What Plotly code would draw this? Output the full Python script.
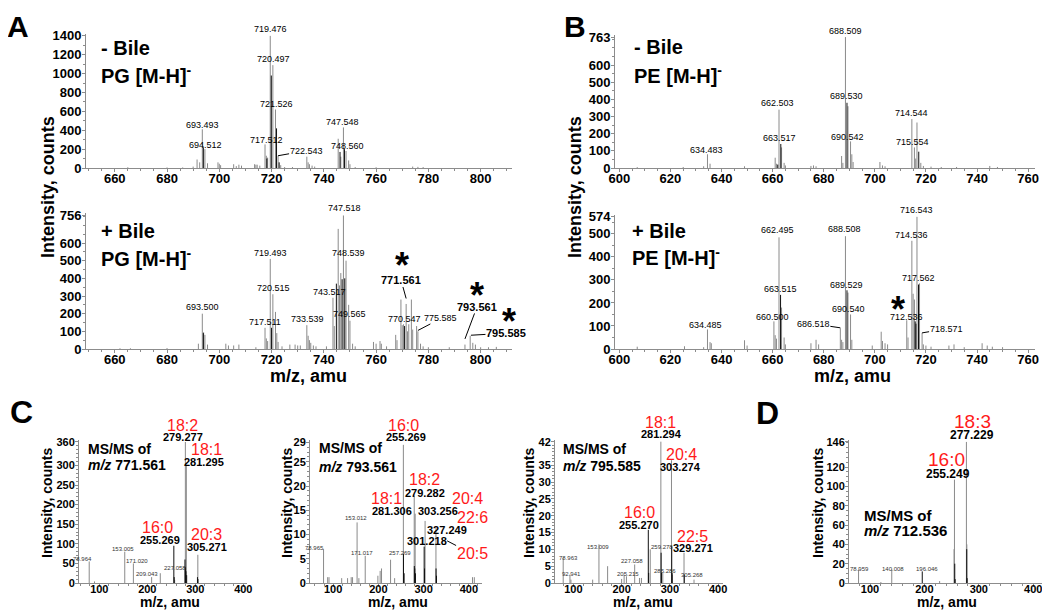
import plotly.graph_objects as go

FONT = "Liberation Sans, Arial, sans-serif"
OFF = 8                      # browser body margin
W, H = 1050 - OFF, 613 - OFF

# ---------------- DATA ----------------
# Panel A, -Bile, PG [M-H]-  (m/z, intensity)
a_top_mz = [665, 680, 686, 690, 691.5, 692.5, 693.5, 694.5, 695.5, 699.5, 700, 700.5, 705.5, 706.5, 707.5, 708.5,
            713.5, 714, 714.5, 715.5, 717.5, 718, 718.5, 719.5, 720.5, 721.5, 722.5, 723.5, 725, 728,
            733.5, 734, 734.5, 735.5, 736.5, 745.5, 746.5, 747.5, 748.5, 749.5, 750, 752, 760, 774, 776, 778]
a_top_int = [8, 6, 6, 15, 90, 60, 410, 200, 50, 60, 45, 30, 40, 20, 35, 25,
             40, 35, 35, 25, 250, 130, 110, 1400, 1090, 620, 130, 30, 10, 10,
             120, 60, 40, 25, 15, 310, 120, 430, 180, 80, 40, 10, 8, 15, 12, 10]
a_top_dark_mz = [693.9, 718.2, 719.9, 721.9, 722.9, 746.2, 747.9]
a_top_dark_int = [220, 100, 980, 420, 60, 170, 200]

# Panel A, +Bile, PG [M-H]-
a_bot_mz = [662, 666, 680, 692, 693.5, 694, 694.5, 695.5, 702.5, 703.5, 705.5, 707.5, 714, 717.5, 718, 718.5,
            719.5, 720.5, 721.5, 722, 722.5, 724, 727, 729, 730, 731, 733.5, 734, 734.5, 735, 736, 737, 741,
            743.5, 744, 745.5, 746, 746.5, 747.5, 748.5, 749.5, 750, 751, 752, 759, 760, 761.5, 762, 764,
            767.5, 768, 769.5, 770, 770.5, 771.5, 772, 772.5, 773.5, 774, 775.5, 776, 777, 778, 780, 788,
            794, 796, 797, 798, 800, 803, 806]
a_bot_int = [4, 4, 5, 30, 200, 95, 80, 25, 30, 20, 20, 25, 10, 120, 60, 45,
             510, 310, 210, 90, 40, 15, 25, 25, 20, 20, 135, 75, 50, 35, 20, 15, 15,
             290, 130, 680, 360, 430, 756, 500, 250, 160, 30, 15, 40, 30, 45, 30, 15,
             80, 50, 280, 135, 140, 255, 100, 140, 280, 110, 130, 100, 30, 15, 10, 10,
             25, 75, 35, 25, 10, 10, 12]
a_bot_dark_mz = [693.9, 720.0, 744.8, 747.0, 748.0, 770.9]
a_bot_dark_int = [90, 120, 370, 395, 400, 130]

# Panel B, -Bile, PE [M-H]-
b_top_mz = [607, 625, 633, 634.5, 635.5, 649, 661, 661.5, 662.5, 663.5, 664.5, 665, 675, 676, 677,
            687, 687.5, 688.5, 689.5, 690.5, 691, 691.5, 702, 703, 704, 714.5, 715.5, 716, 716.5, 718, 719,
            722, 726, 732, 745, 748]
b_top_int = [5, 6, 10, 80, 25, 10, 60, 25, 340, 120, 30, 15, 12, 15, 10,
             70, 30, 763, 360, 155, 80, 35, 35, 15, 10, 285, 120, 55, 265, 30, 12,
             8, 6, 6, 12, 6]
b_top_dark_mz = [662.0, 663.2, 689.1, 717.2]
b_top_dark_int = [20, 140, 380, 95]

# Panel B, +Bile, PE [M-H]-
b_bot_mz = [607, 625.5, 633, 634.5, 635.5, 636, 649, 650, 660.5, 661, 661.5, 662.5, 663.5, 664.5, 665,
            675, 677, 678, 686.5, 687, 687.5, 688.5, 689.5, 690.5, 691, 699, 702.5, 703, 704, 705,
            712.5, 713, 714.5, 715, 715.5, 716.5, 717.5, 718.5, 719, 720, 722, 729, 731, 735, 742, 744, 746, 750]
b_bot_int = [10, 12, 8, 85, 30, 25, 38, 15, 120, 60, 45, 485, 180, 50, 20,
             25, 40, 20, 90, 40, 30, 490, 245, 150, 40, 15, 75, 35, 25, 20,
             125, 50, 470, 240, 215, 574, 285, 70, 20, 15, 10, 15, 20, 8, 25, 15, 10, 8]
b_bot_dark_mz = [663.1, 689.1, 715.8, 716.1, 717.1]
b_bot_dark_int = [235, 255, 120, 110, 280]

# Panel C, MS/MS of m/z 771.561
c1_mz = [78.964, 90, 153.005, 171.020, 209.043, 227.058, 257, 279.277, 281.295, 305.271]
c1_int = [55, 4, 80, 50, 15, 25, 8, 360, 300, 72]
c1_dark_mz = [255.269, 256, 278.5, 279.5, 280.5, 282, 304.5, 305.5]
c1_dark_int = [95, 15, 60, 40, 30, 20, 15, 10]

# Panel C, MS/MS of m/z 793.561
c2_mz = [78.965, 88, 91, 119, 132, 140, 143, 153.012, 157, 171.017, 199, 204, 207, 227, 236,
         255.269, 257, 279.282, 281.306, 303.256, 327.249, 408, 412]
c2_int = [7, 1.2, 1.2, 1, 1, 1.2, 1.2, 12.5, 1, 5.6, 1.5, 2.5, 3, 4.8, 1,
          28.5, 2, 18, 14.3, 12.8, 11.4, 1.2, 1.2]
c2_dark_mz = [255.5, 256.5, 279.5, 280.5, 282, 301.218, 302, 327.5, 328.5]
c2_dark_int = [6, 2, 3.5, 3, 2, 7.5, 3, 3, 1.5]

# Panel C, MS/MS of m/z 795.585
c3_mz = [78.963, 92.941, 95, 140, 153.009, 171, 200, 205.215, 210, 227.058, 237, 241,
         259.278, 281.294, 285.286, 303.274, 305.268, 329.271, 350]
c3_int = [7.4, 2.5, 1, 1, 11.5, 5, 1.2, 2.5, 2, 5.5, 1.5, 1.5,
          10, 42, 3, 36.5, 2.5, 9, 1]
c3_dark_mz = [255.270, 256, 281.8, 282.5, 303.8, 304.5, 329.8]
c3_dark_int = [15.8, 3, 9, 3, 11, 3, 2.5]

# Panel D, MS/MS of m/z 712.536
d_mz = [78.959, 120, 140.008, 228, 254.5, 255.249, 277.229, 278]
d_int = [14, 1, 14, 2, 35, 107, 146, 40]
d_dark_mz = [196.046, 255.8, 256.5, 277.8, 278.5]
d_dark_int = [12, 20, 4, 35, 5]

# ---------------- HELPERS ----------------
def px(x):
    return (x - OFF) / W

def py(y):
    return 1 - (y - OFF) / H

def sticks(mz, inten):
    xs, ys = [], []
    for m, h in zip(mz, inten):
        xs += [m, m, None]
        ys += [0, h, None]
    return xs, ys

GREY = "#8a8a8a"
DARK = "#111111"
AXC = "#8c8c8c"

panels = [
    dict(data=(a_top_mz, a_top_int, a_top_dark_mz, a_top_dark_int), xd=(86, 512), yd=(168, 34),
         xr=(649, 812), yr=(0, 1420), xt=list(range(660, 801, 20)), yt=[0, 200, 400, 600, 800, 1000, 1200, 1400],
         xm=5, ym=100, fs=13, xso=-5),
    dict(data=(a_bot_mz, a_bot_int, a_bot_dark_mz, a_bot_dark_int), xd=(86, 512), yd=(349, 213),
         xr=(649, 812), yr=(0, 770), xt=list(range(660, 801, 20)), yt=[0, 100, 200, 300, 400, 500, 600, 756],
         xm=5, ym=50, fs=13, xso=-5),
    dict(data=(b_top_mz, b_top_int, b_top_dark_mz, b_top_dark_int), xd=(615, 1035), yd=(168, 35),
         xr=(598.3, 762.7), yr=(0, 775), xt=list(range(600, 761, 20)), yt=[0, 100, 200, 300, 400, 500, 600, 763],
         xm=5, ym=50, fs=13, xso=-5),
    dict(data=(b_bot_mz, b_bot_int, b_bot_dark_mz, b_bot_dark_int), xd=(615, 1035), yd=(349, 215),
         xr=(598.3, 762.7), yr=(0, 582), xt=list(range(600, 761, 20)), yt=[0, 100, 200, 300, 400, 500, 574],
         xm=5, ym=50, fs=13, xso=-5),
    dict(data=(c1_mz, c1_int, c1_dark_mz, c1_dark_int), xd=(79, 247), yd=(583, 440),
         xr=(57.7, 407.7), yr=(0, 365), xt=[100, 200, 300, 400], yt=[0, 50, 100, 150, 200, 250, 300, 360],
         xm=20, ym=10, fs=11, xso=-7),
    dict(data=(c2_mz, c2_int, c2_dark_mz, c2_dark_int), xd=(310, 482), yd=(583, 440),
         xr=(49, 429), yr=(0, 29.5), xt=[100, 200, 300, 400], yt=[0, 5, 10, 15, 20, 25, 29],
         xm=20, ym=1, fs=11, xso=-7),
    dict(data=(c3_mz, c3_int, c3_dark_mz, c3_dark_int), xd=(555, 723), yd=(583, 440),
         xr=(62, 410), yr=(0, 42.5), xt=[100, 200, 300, 400], yt=[0, 5, 10, 15, 20, 25, 30, 35, 42],
         xm=20, ym=1, fs=11, xso=-7),
    dict(data=(d_mz, d_int, d_dark_mz, d_dark_int), xd=(849, 1043), yd=(583, 440),
         xr=(61.4, 418), yr=(0, 148), xt=[100, 200, 300, 400], yt=[0, 20, 40, 60, 80, 100, 120, 146],
         xm=20, ym=5, fs=11, xso=-7),
]

fig = go.Figure()
layout = dict(width=W, height=H, margin=dict(l=0, r=0, t=0, b=0, pad=0, autoexpand=False),
              paper_bgcolor="white", plot_bgcolor="white", showlegend=False, template="none")

for i, p in enumerate(panels, start=1):
    sfx = "" if i == 1 else str(i)
    gmz, gint, dmz, dint = p["data"]
    gx, gy = sticks(gmz, gint)
    dx, dy = sticks(dmz, dint)
    fig.add_trace(go.Scatter(x=gx, y=gy, mode="lines", line=dict(color=GREY, width=1),
                             xaxis="x" + sfx, yaxis="y" + sfx, hoverinfo="skip"))
    fig.add_trace(go.Scatter(x=dx, y=dy, mode="lines", line=dict(color=DARK, width=1),
                             xaxis="x" + sfx, yaxis="y" + sfx, hoverinfo="skip"))
    tf = dict(family=FONT, size=p["fs"], color="black", weight="bold")
    common = dict(showline=True, linecolor=AXC, linewidth=1, ticks="outside", ticklen=3, tickcolor=AXC,
                  tickmode="array", tickfont=tf, showgrid=False, zeroline=False, automargin=False)
    layout["xaxis" + sfx] = dict(domain=[px(p["xd"][0]), px(p["xd"][1])], range=list(p["xr"]),
                                 anchor="y" + sfx, tickvals=p["xt"], ticklabelstandoff=p["xso"],
                                 minor=dict(ticks="outside", ticklen=2, tickcolor=AXC, dtick=p["xm"],
                                            tick0=0, showgrid=False), **common)
    layout["yaxis" + sfx] = dict(domain=[py(p["yd"][0]), py(p["yd"][1])], range=list(p["yr"]),
                                 anchor="x" + sfx, tickvals=p["yt"], ticklabelstandoff=-2,
                                 minor=dict(ticks="outside", ticklen=2, tickcolor=AXC, dtick=p["ym"],
                                            tick0=0, showgrid=False), **common)

anns = []

def lab(i, text, x, y, size=9, bold=False, color="black", xanchor="center"):
    p = panels[i - 1]
    sfx = "" if i == 1 else str(i)
    top = p["yr"][1]
    ys = 0
    if y > top:
        ppu = (p["yd"][0] - p["yd"][1]) / (p["yr"][1] - p["yr"][0])
        ys = (y - top) * ppu
        y = top
    anns.append(dict(xref="x" + sfx, yref="y" + sfx, x=x, y=y, yshift=ys,
                     text=f"<b>{text}</b>" if bold else text,
                     showarrow=False, xanchor=xanchor, yanchor="middle",
                     font=dict(family=FONT, size=size, color=color)))

def arr(i, text, x, y, ax, ay, size=9, bold=False, color="black"):
    sfx = "" if i == 1 else str(i)
    anns.append(dict(xref="x" + sfx, yref="y" + sfx, x=x, y=y, text=f"<b>{text}</b>" if bold else text,
                     showarrow=True, ax=ax, ay=ay, arrowhead=0, arrowwidth=1, arrowcolor="black",
                     standoff=0, borderpad=0, font=dict(family=FONT, size=size, color=color)))

def paper(text, x, y, size, bold=True, angle=0, xanchor="center", color="black", yanchor="middle"):
    anns.append(dict(xref="paper", yref="paper", x=px(x), y=py(y), text=f"<b>{text}</b>" if bold else text,
                     showarrow=False, xanchor=xanchor, yanchor=yanchor, textangle=angle,
                     font=dict(family=FONT, size=size, color=color)))

# A top labels
for t, x, y in [("719.476", 719.5, 1475), ("720.497", 720.7, 1155), ("721.526", 721.8, 673),
                ("693.493", 693.6, 460), ("694.512", 694.7, 246), ("717.512", 718.0, 300),
                ("747.548", 747.2, 485), ("748.560", 748.9, 235)]:
    lab(1, t, x, y)
arr(1, "722.543", 722.5, 130, 28, -5)

# A bottom labels
for t, x, y in [("747.518", 747.8, 796), ("719.493", 719.5, 544), ("748.539", 749.3, 544),
                ("720.515", 720.7, 344), ("743.517", 742.1, 321), ("693.500", 693.5, 235),
                ("717.511", 717.6, 155), ("733.539", 733.7, 172), ("749.565", 749.7, 200),
                ("770.547", 770.7, 172)]:
    lab(2, t, x, y)
arr(2, "771.561", 771.5, 286, -5, -18, size=11, bold=True)
arr(2, "775.585", 776, 105, 23, -12)
arr(2, "793.561", 794, 57, 12, -32, size=11, bold=True)
arr(2, "795.585", 796.3, 78, 35, -2, size=11, bold=True)
for x, y in [(769.9, 470), (798.5, 305), (810.8, 156)]:
    lab(2, "*", x, y, size=36, bold=True)

# B top labels
for t, x, y in [("688.509", 688.5, 798), ("689.530", 689.0, 420), ("690.542", 689.3, 182),
                ("662.503", 662.0, 381), ("663.517", 662.5, 176), ("634.483", 634.0, 106),
                ("714.544", 714.3, 323), ("715.554", 714.7, 153)]:
    lab(3, t, x, y)

# B bottom labels
for t, x, y in [("716.543", 716.2, 605), ("714.536", 714.2, 495), ("662.495", 661.8, 517),
                ("688.508", 688.0, 521), ("663.515", 663.0, 259), ("689.529", 689.1, 280),
                ("717.562", 717.0, 307), ("690.540", 689.8, 175), ("660.500", 659.9, 140),
                ("634.485", 633.7, 105), ("712.536", 712.5, 140)]:
    lab(4, t, x, y)
arr(4, "686.518", 686.5, 92, -27, -4)
arr(4, "718.571", 718.5, 70, 24, -4)
lab(4, "*", 709.1, 170, size=36, bold=True)

RED = "#ff1a1a"
# C1
for t, x, y in [("18:2", 274, 401), ("18:1", 324, 342), ("16:0", 222, 142), ("20:3", 324, 124)]:
    lab(5, t, x, y, size=16, color=RED)
for t, x, y in [("279.277", 274, 373), ("281.295", 319, 308), ("255.269", 226, 111), ("305.271", 324, 93)]:
    lab(5, t, x, y, size=11, bold=True)
for t, x, y in [("78.964", 66, 62), ("153.005", 149, 88), ("171.020", 178.5, 57), ("209.043", 199, 23),
                ("227.058", 258, 39)]:
    lab(5, t, x, y, size=6, color="#333333")
lab(5, "MS/MS of", 72.3, 342, size=14, bold=True, xanchor="left")
lab(5, "<i>m/z</i> 771.561", 72.3, 300, size=14, bold=True, xanchor="left")

# C2
for t, x, y in [("16:0", 254.7, 32.5), ("18:2", 301, 21.3), ("18:1", 219, 17.4), ("20:4", 396, 17.4),
                ("22:6", 407, 13.5)]:
    lab(6, t, x, y, size=16, color=RED)
arr(6, "20:5", 351.9, 8.7, 25, 13, size=16, color=RED)
for t, x, y in [("255.269", 261, 30.2), ("279.282", 303, 18.6), ("281.306", 230, 14.9), ("303.256", 332, 14.9),
                ("327.249", 352, 11.0), ("301.218", 308, 8.7)]:
    lab(6, t, x, y, size=11, bold=True)
for t, x, y in [("153.012", 151, 13.5), ("171.017", 164, 6.2), ("257.269", 248, 6.2), ("78.965", 60, 7.2)]:
    lab(6, t, x, y, size=6, color="#333333")
lab(6, "MS/MS of", 64.6, 27.8, size=14, bold=True, xanchor="left")
lab(6, "<i>m/z</i> 793.561", 64.6, 24.0, size=14, bold=True, xanchor="left")

# C3
for t, x, y in [("18:1", 279.6, 47.7), ("20:4", 325, 38.1), ("16:0", 238, 20.9), ("22:5", 346, 13.7)]:
    lab(7, t, x, y, size=16, color=RED)
for t, x, y in [("281.294", 281.6, 44.4), ("303.274", 321, 34.6), ("255.270", 236, 17.3), ("329.271", 348, 10.4)]:
    lab(7, t, x, y, size=11, bold=True)
for t, x, y in [("153.009", 151, 10.7), ("259.278", 284, 10.7), ("227.058", 221.6, 6.6), ("205.215", 213, 2.7),
                ("285.286", 290, 3.6), ("305.268", 346, 2.4), ("78.963", 89, 7.4), ("92.941", 97, 2.7)]:
    lab(7, t, x, y, size=6, color="#333333")
lab(7, "MS/MS of", 74.5, 39.9, size=14, bold=True, xanchor="left")
lab(7, "<i>m/z</i> 795.585", 74.5, 34.9, size=14, bold=True, xanchor="left")

# D
for t, x, y in [("18:3", 287.5, 167), ("16:0", 241.5, 128)]:
    lab(8, t, x, y, size=19, color=RED)
for t, x, y in [("277.229", 287.5, 153), ("255.249", 243, 113)]:
    lab(8, t, x, y, size=12, bold=True)
for t, x, y in [("78.959", 81.6, 14.6), ("140.008", 142, 14.6), ("196.046", 205, 14.6)]:
    lab(8, t, x, y, size=6, color="#333333")
lab(8, "MS/MS of", 85.3, 70, size=15, bold=True, xanchor="left")
lab(8, "<i>m/z</i> 712.536", 85.3, 54, size=15, bold=True, xanchor="left")

# panel text
paper("- Bile", 99, 48, 20, xanchor="left")
paper("PG [M-H]<sup>-</sup>", 99, 75, 20, xanchor="left")
paper("+ Bile", 99, 231, 20, xanchor="left")
paper("PG [M-H]<sup>-</sup>", 99, 257, 20, xanchor="left")
paper("- Bile", 632, 47, 20, xanchor="left")
paper("PE [M-H]<sup>-</sup>", 632, 75, 20, xanchor="left")
paper("+ Bile", 630, 231, 20, xanchor="left")
paper("PE [M-H]<sup>-</sup>", 630, 256, 20, xanchor="left")

# panel letters
paper("A", 18, 8, 30, yanchor="top")
paper("B", 575, 8, 30, yanchor="top")
paper("C", 21, 412, 32)
paper("D", 767, 413, 32)

# axis titles
paper("Intensity, counts", 48, 187, 18, angle=-90)
paper("Intensity, counts", 575, 187, 18, angle=-90)
paper("m/z, amu", 308, 376, 18)
paper("m/z, amu", 852, 376, 18)
for x in [47, 287, 529, 818]:
    paper("Intensity, counts", x, 503, 14, angle=-90)
for x in [170, 398, 643, 947]:
    paper("m/z, amu", x, 602, 14)

layout["annotations"] = anns
fig.update_layout(**layout)
fig.write_html("out.html")
